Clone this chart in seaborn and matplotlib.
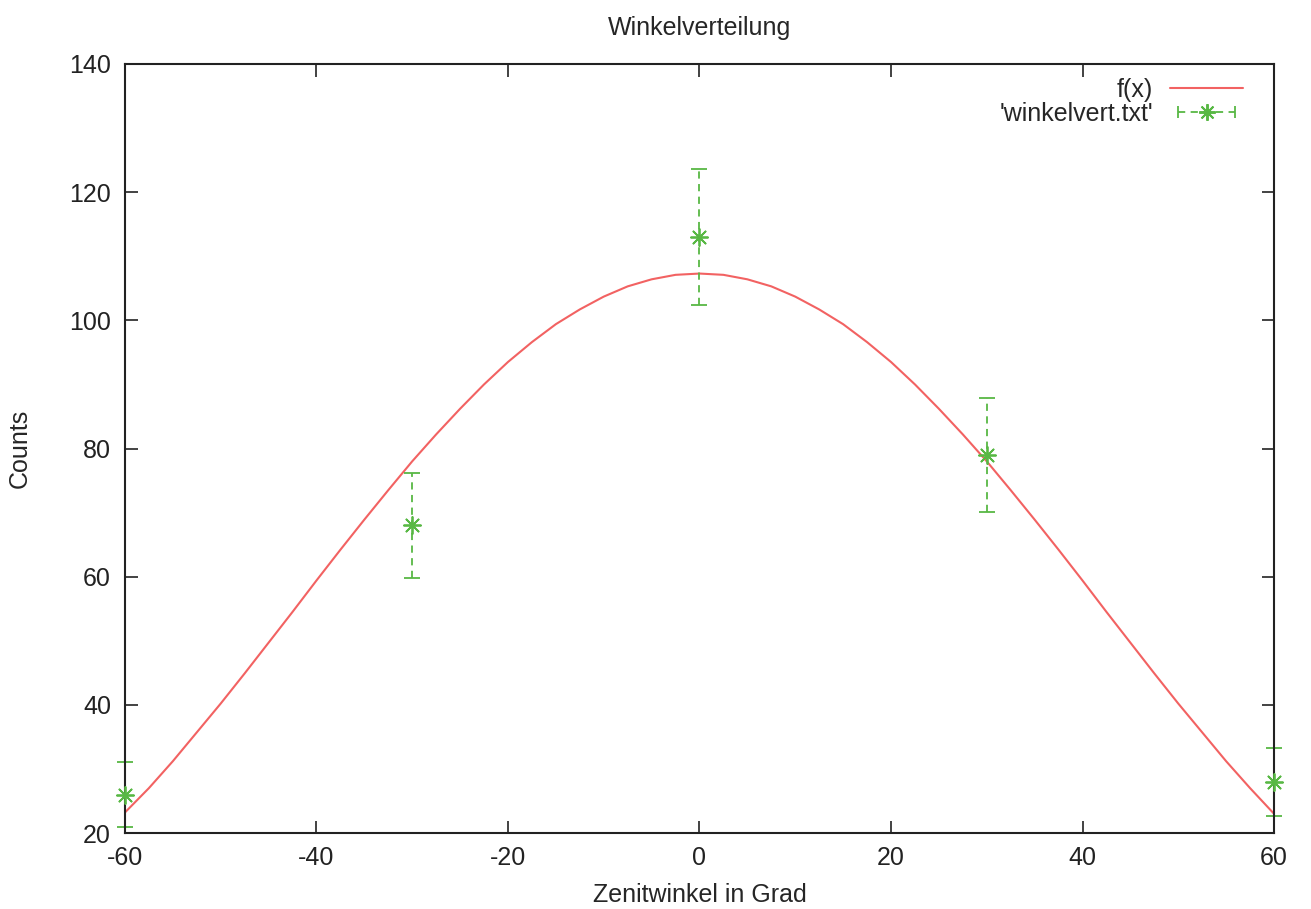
import matplotlib
matplotlib.use("Agg")
import matplotlib.pyplot as plt
from matplotlib.lines import Line2D
from matplotlib.legend_handler import HandlerLine2D, HandlerTuple
import seaborn as sns
import pandas as pd

# fitted curve f(x), every 2.5 degrees
fit_angle = [-60, -57.5, -55, -52.5, -50, -47.5, -45, -42.5, -40, -37.5, -35, -32.5,
             -30, -27.5, -25, -22.5, -20, -17.5, -15, -12.5, -10, -7.5, -5, -2.5, 0,
             2.5, 5, 7.5, 10, 12.5, 15, 17.5, 20, 22.5, 25, 27.5, 30,
             32.5, 35, 37.5, 40, 42.5, 45, 47.5, 50, 52.5, 55, 57.5, 60]
fit_counts = [23.2, 27.0, 31.2, 35.7, 40.2, 44.9, 49.7, 54.5, 59.4, 64.2, 68.9, 73.5,
              78.0, 82.2, 86.2, 90.0, 93.5, 96.6, 99.4, 101.7, 103.7, 105.3, 106.4, 107.1, 107.3,
              107.1, 106.4, 105.3, 103.7, 101.7, 99.4, 96.6, 93.5, 90.0, 86.2, 82.2, 78.0,
              73.5, 68.9, 64.2, 59.4, 54.5, 49.7, 44.9, 40.2, 35.7, 31.2, 27.0, 23.0]

# measured points from 'winkelvert.txt'
angle = [-60, -30, 0, 30, 60]
counts = [26, 68, 113, 79, 28]
counts_err = [5.1, 8.2, 10.6, 8.9, 5.3]

red = "#f26262"
green = "#58b844"

sns.set_style("ticks")
plt.rcParams["font.family"] = ["Liberation Sans", "DejaVu Sans"]
plt.rcParams["font.size"] = 18
plt.rcParams["axes.unicode_minus"] = False

fig = plt.figure(figsize=(13.11, 9.09), dpi=100)
ax = fig.add_axes([0.0953, 0.0836, 0.8765, 0.846])

fit_df = pd.DataFrame({"angle": fit_angle, "counts": fit_counts})
sns.lineplot(data=fit_df, x="angle", y="counts", ax=ax, color=red, lw=1.5, legend=False)

eb = ax.errorbar(angle, counts, yerr=counts_err, fmt="none", ecolor=green,
                 elinewidth=1.3, capsize=6, capthick=1.3, clip_on=False)
eb[2][0].set_linestyle((0, (4, 3)))
for cap in eb[1]:
    cap.set_clip_on(False)
sns.scatterplot(x=angle, y=counts, ax=ax, marker=(8, 2, 0), s=150, color=green,
                linewidth=1.3, clip_on=False, legend=False, zorder=5)

ax.set_xlim(-60, 60)
ax.set_ylim(20, 140)
ax.set_xticks(range(-60, 61, 20))
ax.set_yticks(range(20, 141, 20))
ax.tick_params(direction="in", length=9, width=1.2, top=True, right=True,
               labelsize=18, colors="#222222")
ax.tick_params(axis="x", pad=9)
ax.tick_params(axis="y", pad=10)
for sp in ax.spines.values():
    sp.set_linewidth(1.5)
    sp.set_color("#222222")

ax.set_title("Winkelverteilung", fontsize=18, pad=21)
ax.set_xlabel("Zenitwinkel in Grad", fontsize=18, labelpad=10)
ax.set_ylabel("Counts", fontsize=18, labelpad=27)

# gnuplot-style legend key for the data: dashed line with caps and an asterisk
key_line = Line2D([], [], color=green, ls=(0, (4, 3)), lw=1.3, marker="|", ms=9, mew=1.3)
key_star = Line2D([], [], color=green, ls="none", marker=(8, 2, 0), ms=12, mew=1.4)
fit_handle = Line2D([], [], color=red, lw=1.5)
ax.legend([fit_handle, (key_line, key_star)], ["f(x)", "'winkelvert.txt'"],
          loc="upper right", bbox_to_anchor=(0.9795, 0.9915), frameon=False,
          markerfirst=False, fontsize=18, handlelength=2.9, handletextpad=0.7,
          borderaxespad=0, borderpad=0.3, labelspacing=0.0,
          handler_map={key_line: HandlerLine2D(numpoints=2),
                       key_star: HandlerLine2D(numpoints=1),
                       tuple: HandlerTuple(ndivide=1)})

fig.savefig("out.png", dpi=100)
